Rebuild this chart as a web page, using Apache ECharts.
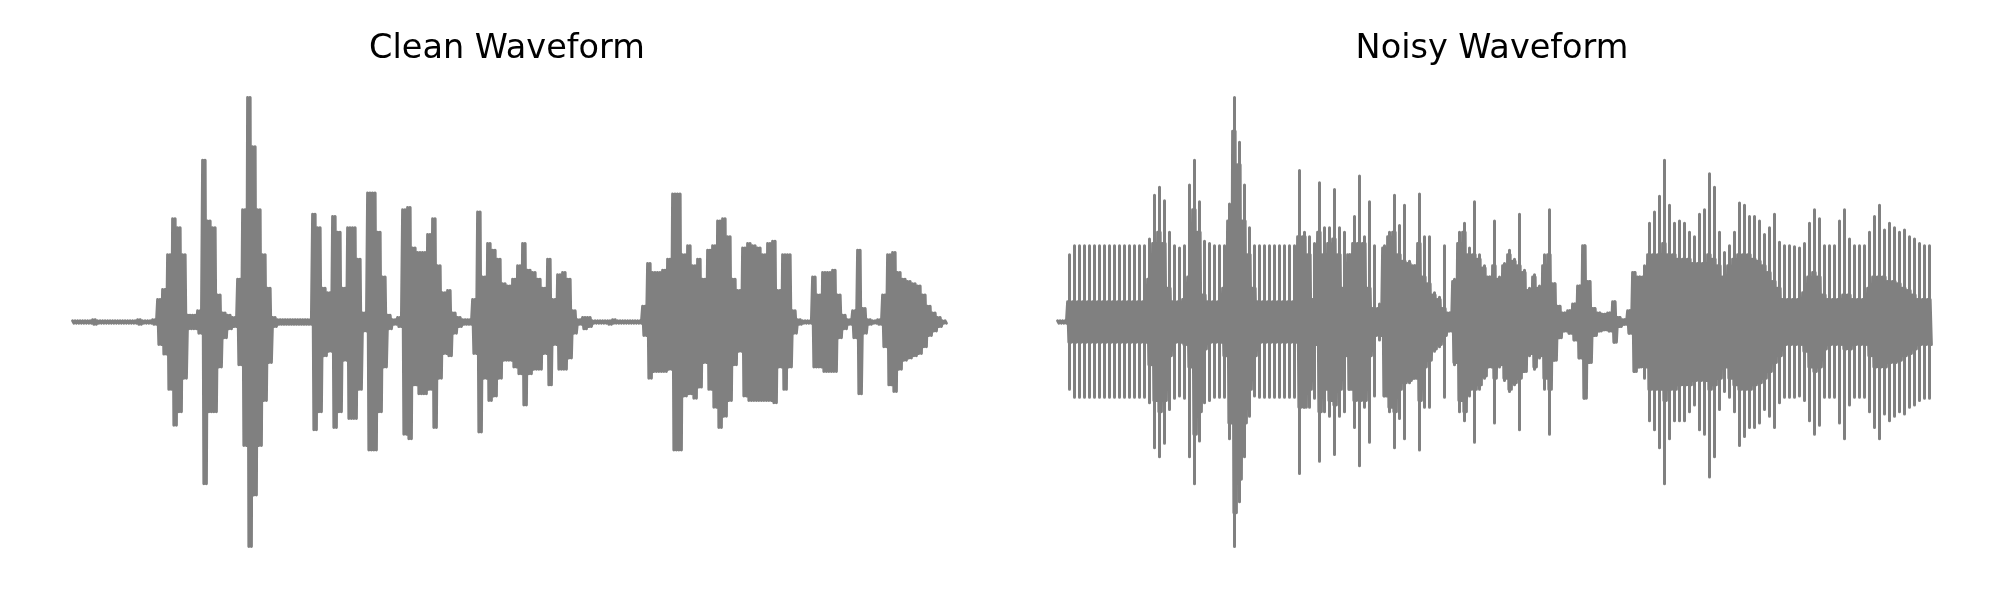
<!DOCTYPE html>
<html>
<head>
<meta charset="utf-8">
<script src="https://cdn.jsdelivr.net/npm/echarts@6/dist/echarts.min.js"></script>
<style>
html,body{margin:0;padding:0;background:#fff;}
#chart{width:2000px;height:600px;}
</style>
</head>
<body>
<div id="chart"></div>
<script>
// Panel titles
const titles = ['Clean Waveform', 'Noisy Waveform'];

// Clean waveform: upper and lower envelope (magnitude) per column
const cleanTop = [
0.005,0.005,0.005,0.005,0.01,0.005,0.005,0.005,0.005,0.005,
0.005,0.005,0.005,0.01,0.005,0.005,0.01,0.1,0.145,0.3,
0.46,0.42,0.3,0.03,0.03,0.05,0.72,0.45,0.42,0.12,
0.04,0.03,0.02,0.19,0.5,1.0,0.78,0.5,0.3,0.15,
0.02,0.01,0.01,0.01,0.01,0.01,0.01,0.01,0.48,0.42,
0.15,0.13,0.47,0.4,0.15,0.42,0.42,0.28,0.04,0.575,
0.575,0.4,0.2,0.03,0.01,0.02,0.5,0.51,0.33,0.31,
0.31,0.39,0.46,0.25,0.13,0.14,0.04,0.02,0.01,0.01,
0.1,0.49,0.2,0.35,0.32,0.28,0.17,0.16,0.19,0.25,
0.35,0.23,0.22,0.19,0.15,0.28,0.1,0.21,0.22,0.19,
0.05,0.01,0.02,0.02,0.005,0.005,0.005,0.005,0.01,0.005,
0.005,0.005,0.005,0.005,0.07,0.26,0.22,0.22,0.23,0.28,
0.57,0.57,0.3,0.34,0.25,0.28,0.19,0.32,0.34,0.45,
0.46,0.38,0.19,0.14,0.33,0.35,0.34,0.33,0.3,0.35,
0.36,0.14,0.3,0.3,0.05,0.01,0.005,0.005,0.2,0.12,
0.22,0.22,0.23,0.12,0.03,0.01,0.05,0.32,0.06,0.01,
0.005,0.01,0.12,0.3,0.31,0.22,0.19,0.18,0.17,0.16,
0.12,0.07,0.04,0.02,0.005
];
const cleanBottom = [
0.005,0.005,0.005,0.005,0.01,0.005,0.005,0.005,0.005,0.005,
0.005,0.005,0.005,0.01,0.005,0.005,0.01,0.1,0.143,0.3,
0.46,0.4,0.25,0.03,0.03,0.05,0.72,0.4,0.4,0.2,
0.07,0.03,0.02,0.19,0.55,1.0,0.77,0.55,0.35,0.18,
0.02,0.01,0.01,0.01,0.01,0.01,0.01,0.01,0.48,0.4,
0.15,0.13,0.47,0.4,0.17,0.43,0.43,0.3,0.04,0.57,
0.57,0.4,0.2,0.03,0.01,0.02,0.5,0.52,0.28,0.32,
0.32,0.3,0.47,0.25,0.14,0.15,0.05,0.02,0.01,0.01,
0.14,0.49,0.25,0.35,0.33,0.25,0.17,0.17,0.2,0.23,
0.37,0.23,0.21,0.21,0.14,0.28,0.1,0.21,0.21,0.16,
0.05,0.01,0.03,0.02,0.005,0.005,0.005,0.01,0.005,0.005,
0.005,0.005,0.005,0.005,0.06,0.25,0.22,0.22,0.22,0.21,
0.57,0.57,0.33,0.32,0.34,0.29,0.18,0.3,0.38,0.47,
0.42,0.35,0.19,0.13,0.33,0.35,0.35,0.35,0.35,0.35,
0.36,0.2,0.3,0.2,0.05,0.01,0.005,0.005,0.2,0.2,
0.22,0.22,0.22,0.07,0.03,0.01,0.07,0.32,0.05,0.01,
0.005,0.01,0.11,0.28,0.31,0.21,0.17,0.16,0.15,0.14,
0.11,0.06,0.04,0.02,0.005
];

// Noisy waveform: solid body half-width per column
const noisyBody = [
0.005,0.005,0.09,0.09,0.09,0.09,0.09,0.09,0.09,0.09,
0.09,0.09,0.09,0.09,0.09,0.09,0.09,0.09,0.19,0.35,
0.4,0.35,0.15,0.09,0.09,0.1,0.2,0.5,0.4,0.12,
0.09,0.09,0.09,0.15,0.45,0.85,0.7,0.45,0.3,0.15,
0.09,0.09,0.09,0.09,0.09,0.09,0.09,0.09,0.38,0.38,
0.3,0.1,0.4,0.3,0.35,0.37,0.3,0.15,0.3,0.35,
0.35,0.35,0.15,0.06,0.06,0.33,0.38,0.4,0.3,0.27,
0.26,0.25,0.35,0.2,0.17,0.12,0.1,0.06,0.04,0.18,
0.35,0.4,0.3,0.3,0.28,0.24,0.2,0.25,0.19,0.25,
0.3,0.27,0.25,0.22,0.14,0.2,0.15,0.25,0.3,0.17,
0.07,0.04,0.05,0.08,0.16,0.34,0.18,0.06,0.04,0.035,
0.04,0.09,0.02,0.01,0.05,0.22,0.2,0.2,0.3,0.3,
0.3,0.35,0.3,0.3,0.28,0.28,0.28,0.26,0.26,0.26,
0.3,0.28,0.25,0.2,0.25,0.28,0.3,0.3,0.3,0.28,
0.27,0.25,0.22,0.18,0.15,0.1,0.1,0.1,0.1,0.13,
0.2,0.22,0.2,0.12,0.1,0.1,0.1,0.12,0.12,0.1,
0.1,0.1,0.15,0.2,0.2,0.2,0.18,0.18,0.17,0.15,
0.14,0.12,0.1,0.1,0.1
];
// Noisy waveform: spike extremes (upper and lower magnitude) per column
const noisySpikeTop = [
0,0,0.3,0.34,0.34,0.34,0.34,0.34,0.34,0.34,
0.34,0.34,0.34,0.34,0.34,0.34,0.34,0.34,0.37,0.565,
0.6,0.54,0.4,0.34,0.33,0.34,0.61,0.72,0.535,0.36,
0.35,0.34,0.34,0.34,0.525,1.0,0.8,0.61,0.42,0.34,
0.34,0.34,0.34,0.34,0.34,0.34,0.34,0.34,0.675,0.4,
0.38,0.35,0.62,0.42,0.42,0.59,0.42,0.4,0.3,0.47,
0.65,0.38,0.535,0.34,0.08,0.34,0.4,0.565,0.43,0.52,
0.27,0.25,0.57,0.38,0.38,0.13,0.11,0.34,0.04,0.19,
0.4,0.44,0.33,0.535,0.3,0.25,0.2,0.45,0.2,0.26,
0.32,0.28,0.48,0.23,0.15,0.21,0.16,0.3,0.5,0.17,
0.07,0.04,0.05,0.08,0.16,0.34,0.18,0.06,0.04,0.035,
0.04,0.09,0.02,0.01,0.05,0.22,0.2,0.25,0.44,0.49,
0.56,0.72,0.52,0.44,0.45,0.44,0.4,0.38,0.48,0.5,
0.66,0.6,0.4,0.31,0.34,0.4,0.53,0.52,0.47,0.47,
0.45,0.39,0.42,0.48,0.355,0.34,0.34,0.335,0.33,0.35,
0.44,0.5,0.46,0.34,0.34,0.34,0.45,0.5,0.37,0.34,
0.34,0.34,0.4,0.47,0.52,0.41,0.44,0.42,0.4,0.41,
0.38,0.37,0.35,0.34,0.34
];
const noisySpikeBottom = [
0,0,0.3,0.335,0.335,0.335,0.335,0.335,0.335,0.335,
0.335,0.335,0.335,0.335,0.335,0.335,0.335,0.335,0.36,0.56,
0.6,0.54,0.39,0.34,0.33,0.34,0.6,0.72,0.53,0.36,
0.35,0.335,0.335,0.335,0.52,1.0,0.8,0.6,0.42,0.33,
0.335,0.335,0.335,0.335,0.335,0.335,0.335,0.335,0.675,0.38,
0.38,0.34,0.62,0.4,0.42,0.59,0.42,0.4,0.3,0.47,
0.64,0.38,0.535,0.33,0.08,0.33,0.4,0.56,0.43,0.52,
0.27,0.25,0.57,0.38,0.38,0.13,0.11,0.335,0.04,0.19,
0.4,0.44,0.33,0.535,0.3,0.25,0.19,0.45,0.2,0.26,
0.31,0.28,0.48,0.22,0.15,0.21,0.16,0.3,0.5,0.17,
0.07,0.04,0.05,0.08,0.16,0.34,0.18,0.06,0.04,0.035,
0.04,0.09,0.02,0.01,0.05,0.22,0.2,0.25,0.44,0.48,
0.56,0.72,0.52,0.44,0.44,0.44,0.4,0.37,0.48,0.5,
0.69,0.6,0.39,0.31,0.335,0.4,0.55,0.51,0.47,0.47,
0.45,0.39,0.42,0.47,0.36,0.335,0.335,0.335,0.33,0.35,
0.44,0.5,0.46,0.335,0.335,0.335,0.45,0.52,0.37,0.335,
0.335,0.335,0.4,0.47,0.52,0.41,0.44,0.42,0.4,0.41,
0.38,0.37,0.35,0.34,0.34
];

// ---- build line tables from the arrays ----
function zigzag(top, bottom) {
  const d = [];
  for (let i = 0; i < top.length; i++) {
    d.push([i - 0.375, top[i]], [i - 0.125, -bottom[i]], [i + 0.125, top[i]], [i + 0.375, -bottom[i]]);
  }
  return d;
}
function spikes(top, bottom) {
  const d = [];
  for (let i = 0; i < top.length; i++) {
    if (top[i] > 0 || bottom[i] > 0) {
      d.push([i, top[i]], [i, -bottom[i]], [i, '-']);
    }
  }
  return d;
}

const chart = echarts.init(document.getElementById('chart'), null, {renderer: 'canvas'});
const n = cleanTop.length;
const grey = '#808080';
const lineStyle = {color: grey, width: 3, cap: 'round', join: 'round'};
const base = {type: 'line', symbol: 'none', showSymbol: false, silent: true, animation: false,
  lineStyle: lineStyle, itemStyle: {color: grey}, connectNulls: false};
const titleStyle = {fontFamily: 'DejaVu Sans', fontSize: 33.5, fontWeight: 'normal', color: '#000'};

chart.setOption({
  animation: false,
  backgroundColor: '#ffffff',
  title: [
    {text: titles[0], left: 502, top: 27, textAlign: 'center', textStyle: titleStyle},
    {text: titles[1], left: 1487, top: 27, textAlign: 'center', textStyle: titleStyle}
  ],
  grid: [
    {left: 72, top: 75, width: 875, height: 494},
    {left: 1057, top: 75, width: 875, height: 494}
  ],
  xAxis: [
    {type: 'value', gridIndex: 0, min: -0.5, max: n - 0.5, show: false},
    {type: 'value', gridIndex: 1, min: -0.5, max: n - 0.5, show: false}
  ],
  yAxis: [
    {type: 'value', gridIndex: 0, min: -1.1, max: 1.1, show: false},
    {type: 'value', gridIndex: 1, min: -1.1, max: 1.1, show: false}
  ],
  series: [
    Object.assign({}, base, {name: 'clean', xAxisIndex: 0, yAxisIndex: 0, data: zigzag(cleanTop, cleanBottom)}),
    Object.assign({}, base, {name: 'noisy body', xAxisIndex: 1, yAxisIndex: 1, data: zigzag(noisyBody, noisyBody)}),
    Object.assign({}, base, {name: 'noisy spikes', xAxisIndex: 1, yAxisIndex: 1, data: spikes(noisySpikeTop, noisySpikeBottom)})
  ]
});
</script>
</body>
</html>
